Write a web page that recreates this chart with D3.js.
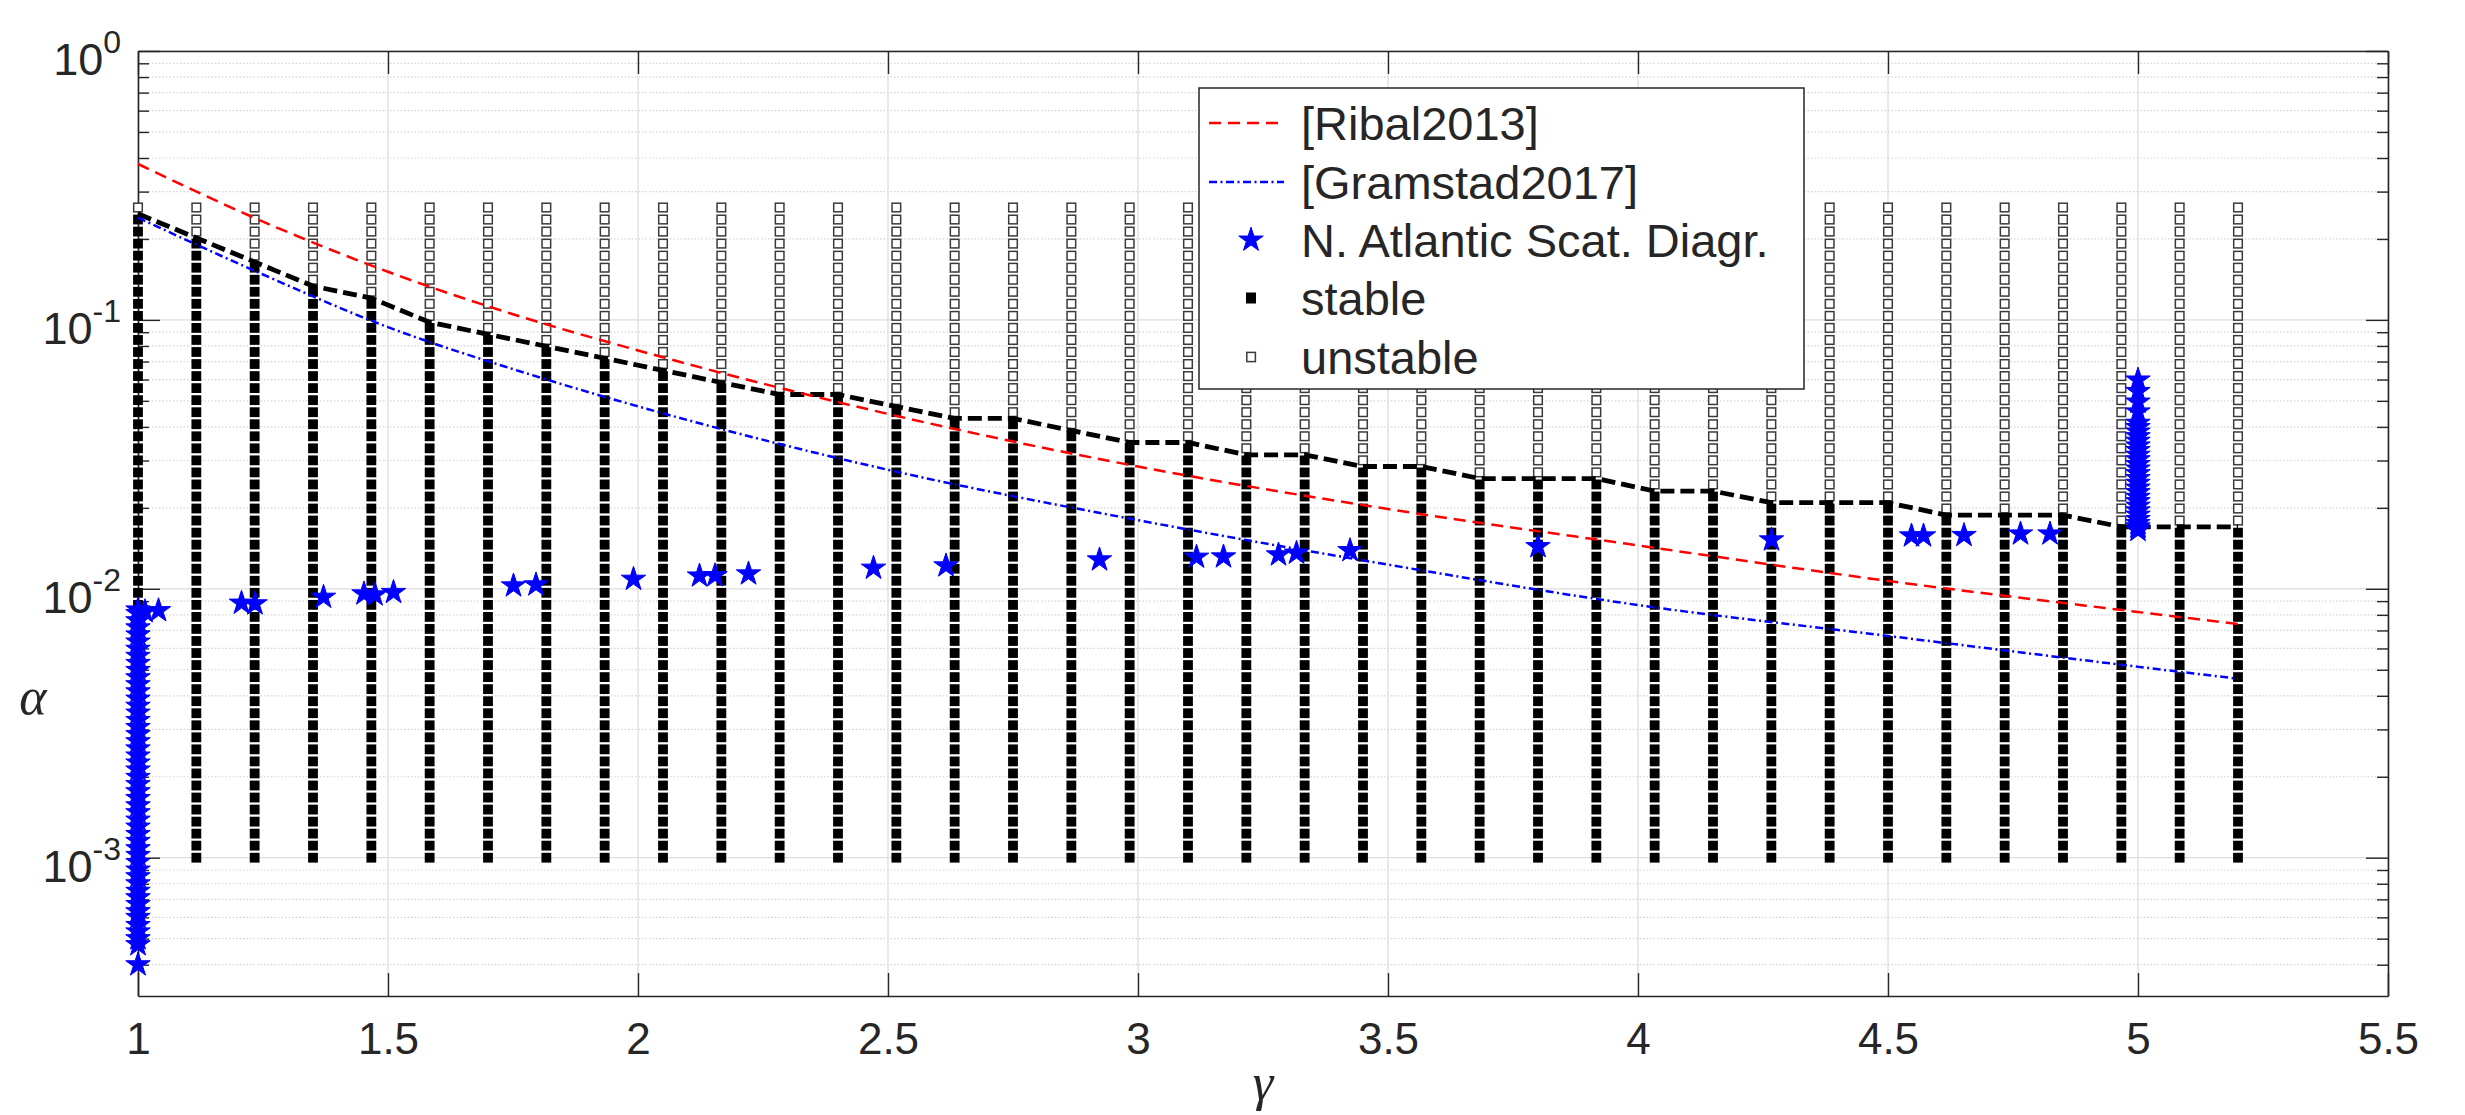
<!DOCTYPE html>
<html>
<head>
<meta charset="utf-8">
<script src="https://cdn.jsdelivr.net/npm/d3@7"></script>
<style>
	body { margin: 0; background: #fff; }
	svg { display: block; }
	text { font-family: "Liberation Sans", Arial, Helvetica, sans-serif; fill: #262626; }
</style>
</head>
<body>
<svg id="chart" width="2465" height="1115"></svg>
<script>
// columns of the stability grid (gamma) and its rows (alpha)
var gammaGrid = [1, 1.1167, 1.2333, 1.35, 1.4667, 1.5833, 1.7, 1.8167, 1.9333, 2.05, 2.1667, 2.2833, 2.4,
	2.5167, 2.6333, 2.75, 2.8667, 2.9833, 3.1, 3.2167, 3.3333, 3.45, 3.5667, 3.6833, 3.8, 3.9167, 4.0333,
	4.15, 4.2667, 4.3833, 4.5, 4.6167, 4.7333, 4.85, 4.9667, 5.0833, 5.2];

var alphaGrid = [0.001000, 0.001109, 0.001229, 0.001362, 0.001510, 0.001674, 0.001856, 0.002058, 0.002281,
	0.002529, 0.002804, 0.003108, 0.003446, 0.003820, 0.004235, 0.004695, 0.005205, 0.005770, 0.006397,
	0.007092, 0.007862, 0.008716, 0.009663, 0.010712, 0.011876, 0.013165, 0.014595, 0.016180, 0.017938,
	0.019886, 0.022046, 0.024440, 0.027095, 0.030037, 0.033300, 0.036917, 0.040926, 0.045371, 0.050299,
	0.055762, 0.061818, 0.068532, 0.075975, 0.084227, 0.093375, 0.103516, 0.114759, 0.127223, 0.141040,
	0.156359, 0.173341, 0.192167, 0.213038, 0.236180, 0.261829];

// stability boundary (black dashed line), one value per column
var stableTop = [0.2480, 0.2018, 0.1642, 0.1336, 0.1205, 0.0980, 0.0884, 0.0798, 0.0720, 0.0649, 0.0585,
	0.0528, 0.0528, 0.0476, 0.0430, 0.0430, 0.0388, 0.0350, 0.0350, 0.0315, 0.0315, 0.0285, 0.0285,
	0.0257, 0.0257, 0.0257, 0.0231, 0.0231, 0.0209, 0.0209, 0.0209, 0.0188, 0.0188, 0.0188, 0.0170,
	0.0170, 0.0170];

var curveGamma = [1, 1.25, 1.5, 1.75, 2, 2.5, 3, 3.5, 4, 4.5, 5, 5.2];
var ribalAlpha = [0.380, 0.232, 0.151, 0.105, 0.077, 0.0447, 0.0285, 0.0198, 0.0145, 0.0107, 0.0082, 0.0074];
var gramstadAlpha = [0.240, 0.1475, 0.094, 0.0656, 0.0477, 0.0277, 0.0180, 0.0123, 0.0087, 0.00668, 0.00513, 0.00463];

// N. Atlantic scatter diagram
var atlanticAlphaAtGamma1 = [0.00040, 0.000475, 0.00050, 0.00053, 0.00056, 0.00060, 0.00063, 0.00067,
	0.00071, 0.00075, 0.00080, 0.00085, 0.00090, 0.00096, 0.00102, 0.00108, 0.00115, 0.00122, 0.00130,
	0.00138, 0.00147, 0.00156, 0.00166, 0.00176, 0.00187, 0.00199, 0.00212, 0.00225, 0.00239, 0.00254,
	0.00270, 0.00287, 0.00305, 0.00324, 0.00345, 0.00366, 0.00389, 0.00414, 0.00440, 0.00467, 0.00497,
	0.00528, 0.00561, 0.00596, 0.00634, 0.00674, 0.00716, 0.00761, 0.00809, 0.00835];
var atlanticAlphaAtGamma5 = [0.0165, 0.0170, 0.0175, 0.0181, 0.0188, 0.0195, 0.0203, 0.0211, 0.0219,
	0.0228, 0.0237, 0.0247, 0.0257, 0.0268, 0.0279, 0.0290, 0.0302, 0.0314, 0.0327, 0.0340, 0.0354,
	0.0368, 0.0383, 0.0398, 0.0413, 0.0455, 0.0495, 0.0542, 0.0598];
var atlanticGamma = [1.014, 1.041, 1.207, 1.234, 1.371, 1.452, 1.474, 1.511, 1.751, 1.796, 1.991, 2.123,
	2.154, 2.221, 2.471, 2.616, 2.923, 3.117, 3.171, 3.281, 3.317, 3.424, 3.80, 4.267, 4.547, 4.571,
	4.652, 4.765, 4.824];
var atlanticAlpha = [0.00823, 0.00830, 0.00885, 0.00880, 0.00931, 0.00958, 0.00950, 0.00970, 0.01026,
	0.01035, 0.01086, 0.01117, 0.01120, 0.01137, 0.01194, 0.01218, 0.01282, 0.01312, 0.01315, 0.01338,
	0.01358, 0.01388, 0.01436, 0.01521, 0.01574, 0.01574, 0.01580, 0.01601, 0.01601];

var xTicks = [1, 1.5, 2, 2.5, 3, 3.5, 4, 4.5, 5, 5.5];
var yTicks = [1e-3, 1e-2, 1e-1, 1];
var yTickExponents = ["-3", "-2", "-1", "0"];
var legendLabels = ["[Ribal2013]", "[Gramstad2017]", "N. Atlantic Scat. Diagr.", "stable", "unstable"];

(function() {

	var plotLeft = 138, plotRight = 2388, plotTop = 51, plotBottom = 996;
	var axisColor = "#262626";

	var svg = d3.select("#chart");

	var x = d3.scaleLinear().domain([1, 5.5]).range([plotLeft, plotRight]);
	var y = d3.scaleLog().domain([3.06e-4, 1]).range([plotBottom, plotTop]);

	// minor y positions (2..9 x 10^k inside the axis)
	var yMinor = [];
	[-4, -3, -2, -1].forEach(function(e) {
		for (var m = 2; m <= 9; m++) {
			var v = m * Math.pow(10, e);
			if (v > y.domain()[0] && v < 1) yMinor.push(v);
		}
	});

	// grid
	var grid = svg.append("g").attr("class", "grid");
	grid.append("g").selectAll("line")
		.data(yMinor)
		.enter()
		.append("line")
		.attr("x1", plotLeft).attr("x2", plotRight)
		.attr("y1", function(d) { return y(d); })
		.attr("y2", function(d) { return y(d); })
		.attr("stroke", "#d4d4d4")
		.attr("stroke-width", 1.2)
		.attr("stroke-dasharray", "1.5 2");
	grid.append("g").selectAll("line")
		.data(yTicks)
		.enter()
		.append("line")
		.attr("x1", plotLeft).attr("x2", plotRight)
		.attr("y1", function(d) { return y(d); })
		.attr("y2", function(d) { return y(d); })
		.attr("stroke", "#dedede")
		.attr("stroke-width", 1.3);
	grid.append("g").selectAll("line")
		.data(xTicks)
		.enter()
		.append("line")
		.attr("y1", plotTop).attr("y2", plotBottom)
		.attr("x1", function(d) { return x(d); })
		.attr("x2", function(d) { return x(d); })
		.attr("stroke", "#dedede")
		.attr("stroke-width", 1.3);

	// axes (under the data, like MATLAB's default layer)
	function styleAxis(g) {
		g.selectAll("path").attr("stroke", axisColor).attr("stroke-width", 1.6);
		g.selectAll("line").attr("stroke", axisColor).attr("stroke-width", 1.4);
	}

	svg.append("g")
		.attr("transform", "translate(0," + plotBottom + ")")
		.call(d3.axisBottom(x).tickValues(xTicks).tickSize(-23).tickSizeOuter(0).tickPadding(27)
			.tickFormat(function(d) { return d; }))
		.call(styleAxis)
		.call(function(g) {
			g.selectAll("text")
				.attr("fill", axisColor)
				.style("font-size", "44px");
		});

	svg.append("g")
		.attr("transform", "translate(0," + plotTop + ")")
		.call(d3.axisTop(x).tickValues(xTicks).tickSize(-23).tickSizeOuter(0).tickFormat(""))
		.call(styleAxis);

	svg.append("g")
		.attr("transform", "translate(" + plotLeft + ",0)")
		.call(d3.axisLeft(y).tickValues(yTicks).tickSize(-22).tickSizeOuter(0).tickFormat(""))
		.call(styleAxis);
	svg.append("g")
		.attr("transform", "translate(" + plotLeft + ",0)")
		.call(d3.axisLeft(y).tickValues(yMinor).tickSize(-11).tickSizeOuter(0).tickFormat(""))
		.call(styleAxis)
		.select("path").remove();

	svg.append("g")
		.attr("transform", "translate(" + plotRight + ",0)")
		.call(d3.axisRight(y).tickValues(yTicks).tickSize(-22).tickSizeOuter(0).tickFormat(""))
		.call(styleAxis);
	svg.append("g")
		.attr("transform", "translate(" + plotRight + ",0)")
		.call(d3.axisRight(y).tickValues(yMinor).tickSize(-11).tickSizeOuter(0).tickFormat(""))
		.call(styleAxis)
		.select("path").remove();

	// y tick labels 10^k
	var yLabels = svg.append("g").attr("class", "yLabels");
	yTicks.forEach(function(v, i) {
		var t = yLabels.append("text")
			.attr("x", 121)
			.attr("y", y(v) + 24)
			.attr("text-anchor", "end")
			.attr("fill", axisColor)
			.style("font-size", "45px");
		t.append("tspan").text("10");
		t.append("tspan")
			.attr("dy", -22)
			.style("font-size", "32px")
			.text(yTickExponents[i]);
	});

	// axis labels
	svg.append("text")
		.attr("x", 33).attr("y", 714)
		.attr("text-anchor", "middle")
		.style("font-family", "'Liberation Serif', 'Times New Roman', serif")
		.style("font-style", "italic")
		.style("font-size", "52px")
		.attr("fill", axisColor)
		.text("α");

	svg.append("text")
		.attr("x", 1263).attr("y", 1100)
		.attr("text-anchor", "middle")
		.style("font-family", "'Liberation Serif', 'Times New Roman', serif")
		.style("font-style", "italic")
		.style("font-size", "52px")
		.attr("fill", axisColor)
		.text("γ");

	// stability grid
	var cells = [];
	gammaGrid.forEach(function(g, i) {
		alphaGrid.forEach(function(a) {
			cells.push({ g: g, a: a, stable: a <= stableTop[i] });
		});
	});

	svg.append("g").attr("class", "unstable").selectAll("rect")
		.data(cells.filter(function(c) { return !c.stable; }))
		.enter()
		.append("rect")
		.attr("x", function(d) { return x(d.g) - 4.3; })
		.attr("y", function(d) { return y(d.a) - 4.3; })
		.attr("width", 8.6)
		.attr("height", 8.6)
		.attr("fill", "#fff")
		.attr("stroke", "#3a3a3a")
		.attr("stroke-width", 1.5);

	svg.append("g").attr("class", "stable").selectAll("rect")
		.data(cells.filter(function(c) { return c.stable; }))
		.enter()
		.append("rect")
		.attr("x", function(d) { return x(d.g) - 4.9; })
		.attr("y", function(d) { return y(d.a) - 4.9; })
		.attr("width", 9.8)
		.attr("height", 9.8)
		.attr("fill", "#000");

	// boundary
	svg.append("path")
		.datum(gammaGrid.map(function(g, i) { return [g, stableTop[i]]; }))
		.attr("fill", "none")
		.attr("stroke", "#000")
		.attr("stroke-width", 4.8)
		.attr("stroke-dasharray", "14 6")
		.attr("d", d3.line()
			.x(function(d) { return x(d[0]); })
			.y(function(d) { return y(d[1]); }));

	var curveLine = d3.line()
		.x(function(d) { return x(d[0]); })
		.y(function(d) { return y(d[1]); })
		.curve(d3.curveMonotoneX);

	svg.append("path")
		.datum(curveGamma.map(function(g, i) { return [g, ribalAlpha[i]]; }))
		.attr("fill", "none")
		.attr("stroke", "#ff0000")
		.attr("stroke-width", 2.5)
		.attr("stroke-dasharray", "12 7")
		.attr("d", curveLine);

	svg.append("path")
		.datum(curveGamma.map(function(g, i) { return [g, gramstadAlpha[i]]; }))
		.attr("fill", "none")
		.attr("stroke", "#0000ff")
		.attr("stroke-width", 2.5)
		.attr("stroke-dasharray", "8 3.5 2 3.5")
		.attr("d", curveLine);

	// stars
	var stars = [];
	atlanticAlphaAtGamma1.forEach(function(a) { stars.push([1, a]); });
	atlanticGamma.forEach(function(g, i) { stars.push([g, atlanticAlpha[i]]); });
	atlanticAlphaAtGamma5.forEach(function(a) { stars.push([5, a]); });

	var star = d3.symbol().type(d3.symbolStar).size(185);

	svg.append("g").attr("class", "stars").selectAll("path")
		.data(stars)
		.enter()
		.append("path")
		.attr("transform", function(d) { return "translate(" + x(d[0]) + "," + y(d[1]) + ")"; })
		.attr("d", star)
		.attr("fill", "#0000ff")
		.attr("stroke", "#0000ff")
		.attr("stroke-width", 1);

	// legend
	var legend = svg.append("g").attr("class", "legend");
	legend.append("rect")
		.attr("x", 1199).attr("y", 88)
		.attr("width", 605).attr("height", 301)
		.attr("fill", "#fff")
		.attr("stroke", "#262626")
		.attr("stroke-width", 1.5);

	var rowY = [123, 182, 240, 298, 357];

	legend.selectAll("text")
		.data(legendLabels)
		.enter()
		.append("text")
		.attr("x", 1301)
		.attr("y", function(d, i) { return rowY[i] + 17; })
		.attr("fill", "#000")
		.style("font-size", "47px")
		.text(function(d) { return d; });

	legend.append("line")
		.attr("x1", 1209).attr("x2", 1284)
		.attr("y1", rowY[0]).attr("y2", rowY[0])
		.attr("stroke", "#ff0000")
		.attr("stroke-width", 2.5)
		.attr("stroke-dasharray", "12 7");
	legend.append("line")
		.attr("x1", 1209).attr("x2", 1284)
		.attr("y1", rowY[1]).attr("y2", rowY[1])
		.attr("stroke", "#0000ff")
		.attr("stroke-width", 2.5)
		.attr("stroke-dasharray", "8 3.5 2 3.5");
	legend.append("path")
		.attr("transform", "translate(1251," + rowY[2] + ")")
		.attr("d", star)
		.attr("fill", "#0000ff")
		.attr("stroke", "#0000ff")
		.attr("stroke-width", 1);
	legend.append("rect")
		.attr("x", 1246).attr("y", rowY[3] - 5.5)
		.attr("width", 10).attr("height", 11)
		.attr("fill", "#000");
	legend.append("rect")
		.attr("x", 1246.8).attr("y", rowY[4] - 4.6)
		.attr("width", 8.6).attr("height", 9.2)
		.attr("fill", "#fff")
		.attr("stroke", "#3a3a3a")
		.attr("stroke-width", 1.5);

})();
</script>
</body>
</html>
